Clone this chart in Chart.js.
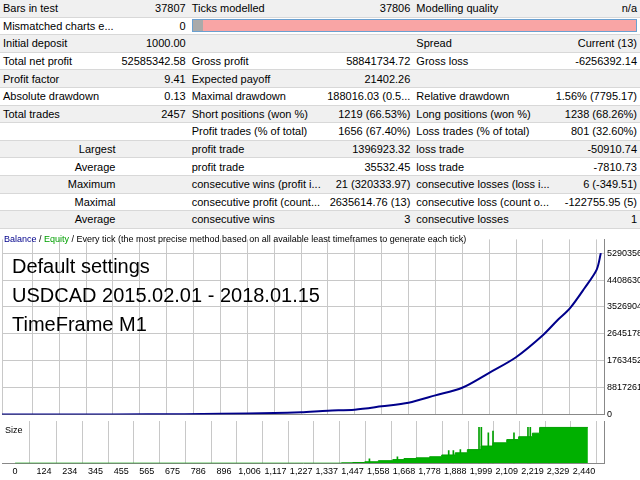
<!doctype html>
<html>
<head>
<meta charset="utf-8">
<script src="https://cdn.jsdelivr.net/npm/chart.js@4.4.1/dist/chart.umd.min.js"></script>
<style>
 body{margin:0;width:640px;height:480px;position:relative;background:#fff;font-family:"Liberation Sans",Arial,sans-serif;overflow:hidden}
 table{position:absolute;left:0;top:0;width:640px;border-collapse:collapse;font-size:11px;color:#000}
 td{height:16.6px;padding:0 3px;border-bottom:1px solid #d8d8d8;white-space:nowrap}
 tr:nth-child(odd){background:#f0f0f0}
 .r{text-align:right}
 #main{position:absolute;left:0;top:231px}
 #size{position:absolute;left:0;top:421px}
 #leg{position:absolute;left:4px;top:234px;font-size:9px}
 #big{position:absolute;left:12px;top:252px;font-size:20px;line-height:29px}
 #sz{position:absolute;left:5px;top:425px;font-size:9px}
</style>
</head>
<body>
<table>
<tr><td style="width:190px">Bars in test</td><td class="r">37807</td><td style="width:150px">Ticks modelled</td><td class="r">37806</td><td style="width:120px">Modelling quality</td><td class="r">n/a</td></tr>
<tr style="background:#fff"><td>Mismatched charts e...</td><td class="r">0</td><td colspan="4"><div style="height:11px;border:1px solid #6aa0d0;background:#f9a5a5;position:relative"><div style="width:10px;height:11px;background:#aaa"></div></div></td></tr>
<tr><td>Initial deposit</td><td class="r">1000.00</td><td></td><td></td><td>Spread</td><td class="r">Current (13)</td></tr>
<tr><td>Total net profit</td><td class="r">52585342.58</td><td>Gross profit</td><td class="r">58841734.72</td><td>Gross loss</td><td class="r">-6256392.14</td></tr>
<tr><td>Profit factor</td><td class="r">9.41</td><td>Expected payoff</td><td class="r">21402.26</td><td></td><td></td></tr>
<tr><td>Absolute drawdown</td><td class="r">0.13</td><td>Maximal drawdown</td><td class="r">188016.03 (0.5...</td><td>Relative drawdown</td><td class="r">1.56% (7795.17)</td></tr>
<tr><td>Total trades</td><td class="r">2457</td><td>Short positions (won %)</td><td class="r">1219 (66.53%)</td><td>Long positions (won %)</td><td class="r">1238 (68.26%)</td></tr>
<tr><td></td><td></td><td>Profit trades (% of total)</td><td class="r">1656 (67.40%)</td><td>Loss trades (% of total)</td><td class="r">801 (32.60%)</td></tr>
<tr><td class="r">Largest</td><td></td><td>profit trade</td><td class="r">1396923.32</td><td>loss trade</td><td class="r">-50910.74</td></tr>
<tr><td class="r">Average</td><td></td><td>profit trade</td><td class="r">35532.45</td><td>loss trade</td><td class="r">-7810.73</td></tr>
<tr><td class="r">Maximum</td><td></td><td>consecutive wins (profit i...</td><td class="r">21 (320333.97)</td><td>consecutive losses (loss i...</td><td class="r">6 (-349.51)</td></tr>
<tr><td class="r">Maximal</td><td></td><td>consecutive profit (count...</td><td class="r">2635614.76 (13)</td><td>consecutive loss (count o...</td><td class="r">-122755.95 (5)</td></tr>
<tr><td class="r">Average</td><td></td><td>consecutive wins</td><td class="r">3</td><td>consecutive losses</td><td class="r">1</td></tr>
</table>

<canvas id="main" width="640" height="192"></canvas>
<canvas id="size" width="640" height="59"></canvas>
<div id="leg"><span style="color:#00008b">Balance</span> / <span style="color:#00a000">Equity</span> / Every tick (the most precise method based on all available least timeframes to generate each tick)</div>
<div id="big">Default settings<br>USDCAD 2015.02.01 - 2018.01.15<br>TimeFrame M1</div>
<div id="sz">Size</div>

<script>
// balance curve (trade number -> balance)
const tradeNo  = [0, 300, 600, 900, 1117, 1227, 1337, 1447, 1558, 1668, 1778, 1888, 1999, 2109, 2219, 2280, 2329, 2390, 2440, 2457];
const balance  = [1000, 20000, 80000, 250000, 500000, 800000, 1300000, 1600000, 2700000, 3900000, 6300000, 8800000, 13700000, 18800000, 26000000, 31000000, 34700000, 41400000, 47500000, 52903567];
// lot size (relative)
const sizeNo   = [0, 1200, 1400, 1447, 1500, 1558, 1620, 1668, 1720, 1778, 1830, 1888, 1940, 1999, 2050, 2109, 2160, 2219, 2250, 2457];
const sizeVal  = [0, 0, 1, 2, 4, 7, 10, 13, 15, 18, 23, 29, 38, 48, 57, 66, 74, 84, 100, 100];
const spikeNo  = [1520, 1640, 1860, 1880, 1910, 1990, 2000, 2030, 2050, 2140, 2200, 2210, 2290];
const spikeVal = [12, 18, 35, 35, 38, 100, 100, 85, 90, 85, 100, 100, 98];
const yTicks   = [0, 8817261, 17634522, 26451783, 35269045, 44086306, 52903567];
const xTicks   = [0,124,234,345,455,565,675,786,896,1006,1117,1227,1337,1447,1558,1668,1778,1888,1999,2109,2219,2329,2440];

const XMAX = 2470;
const grid = {color:'#c8c8c8', borderDash:[3,3], drawTicks:false};
const tickFont = {family:'Liberation Sans', size:9};

new Chart(document.getElementById('main'), {
  type:'line',
  data:{datasets:[{data:tradeNo.map((x,i)=>({x, y:balance[i]})), borderColor:'#00008b', borderWidth:2, pointRadius:0, tension:0.3}]},
  options:{responsive:false, animation:false, plugins:{legend:{display:false}, tooltip:{enabled:false}},
    layout:{padding:{left:2, top:1, bottom:0}},
    scales:{
      x:{type:'linear', min:0, max:XMAX, grid, border:{color:'#888'},
         afterBuildTicks:a=>{a.ticks=xTicks.map(v=>({value:v}))}, ticks:{display:false}},
      y:{position:'right', min:0, max:57400000, grid, border:{color:'#888'},
         afterBuildTicks:a=>{a.ticks=yTicks.map(v=>({value:v}))},
         ticks:{font:tickFont, color:'#000', padding:3, callback:v=>String(v)}, afterFit:a=>{a.width=36}}
    }}
});

new Chart(document.getElementById('size'), {
  data:{datasets:[
    {type:'line', data:sizeNo.map((x,i)=>({x, y:sizeVal[i]})), stepped:true, fill:'origin', backgroundColor:'#00b000', borderColor:'#00a000', borderWidth:1, pointRadius:0},
    {type:'bar', data:spikeNo.map((x,i)=>({x, y:spikeVal[i]})), backgroundColor:'#00a000', barThickness:1}
  ]},
  options:{responsive:false, animation:false, plugins:{legend:{display:false}, tooltip:{enabled:false}},
    layout:{padding:{left:2}},
    scales:{
      x:{type:'linear', min:0, max:XMAX, grid, border:{color:'#888'},
         afterBuildTicks:a=>{a.ticks=xTicks.map(v=>({value:v}))},
         ticks:{font:tickFont, color:'#000', maxRotation:0, autoSkip:false, padding:3}},
      y:{position:'right', min:0, max:118, grid:{display:false}, border:{color:'#888'},
         ticks:{display:false}, afterFit:a=>{a.width=36}}
    }}
});
</script>
</body>
</html>
